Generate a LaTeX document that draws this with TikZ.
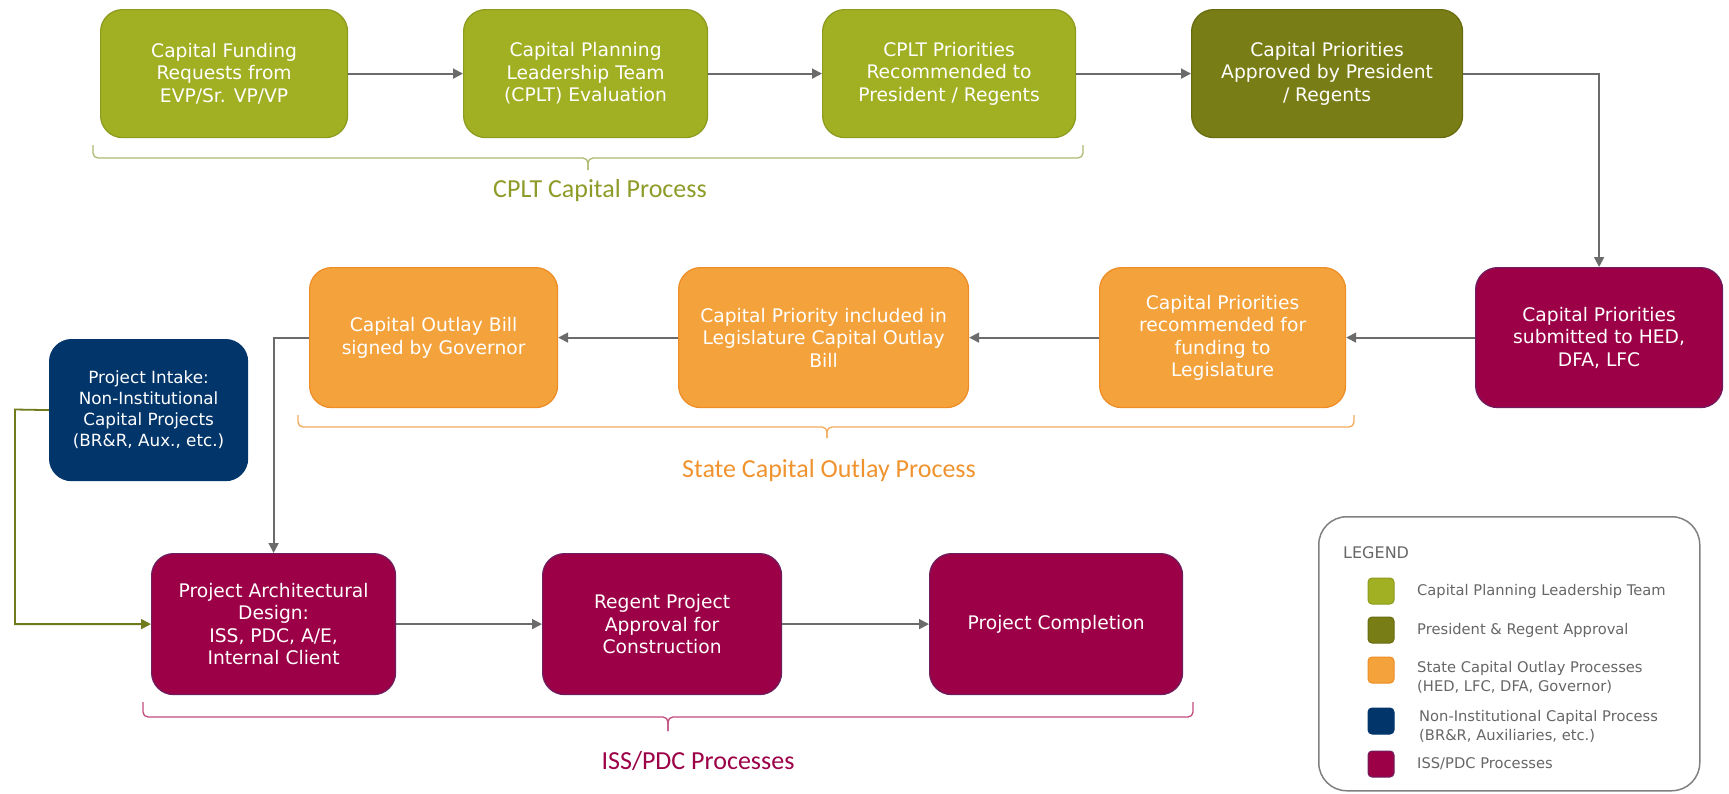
\documentclass[tikz,border=0pt]{standalone}
\usepackage{fontspec}
\setmainfont{DejaVu Sans}
\newfontfamily\labfont{Carlito}
\usetikzlibrary{arrows.meta}
\definecolor{cgreen}{HTML}{A1B023}
\definecolor{cgreenb}{HTML}{8C9A1E}
\definecolor{colive}{HTML}{787D15}
\definecolor{coliveb}{HTML}{676B10}
\definecolor{corange}{HTML}{F4A23B}
\definecolor{corangeb}{HTML}{EE8C26}
\definecolor{cnavy}{HTML}{02356A}
\definecolor{cmaroon}{HTML}{9C0047}
\definecolor{cmaroonb}{HTML}{6E1E5E}
\definecolor{cgray}{HTML}{6B6B6B}
\definecolor{cgline}{HTML}{6F7B1C}
\definecolor{brgreen}{HTML}{AEB86E}
\definecolor{brorange}{HTML}{F2A95C}
\definecolor{brmaroon}{HTML}{C24C7E}
\definecolor{lbgreen}{HTML}{8E9B28}
\definecolor{lborange}{HTML}{F0932F}
\definecolor{lbmaroon}{HTML}{9C0047}
\definecolor{legtext}{HTML}{666666}
\definecolor{legline}{HTML}{808080}
\newcommand\brc[7]{%
  \draw[braceline, draw=#1] (#2,#5) |- (#4,#6) -- (#4,#7);
  \draw[braceline, draw=#1] (#3,#5) |- (#4,#6) -- (#4,#7);}
\begin{document}
\begin{tikzpicture}[x=1pt,y=-1pt,
  box/.style={rounded corners=22pt, line width=1.2pt, align=center, text=white,
    inner sep=0pt, anchor=north west, font=\fontsize{18.7}{22.5}\selectfont},
  conn/.style={draw=cgray, line width=1.8pt, -{Triangle[length=10pt,width=10pt]}},
  gconn/.style={draw=cgline, line width=1.8pt, -{Triangle[length=10pt,width=10pt]}},
  braceline/.style={line width=1.3pt, rounded corners=5pt},
  seclabel/.style={font=\labfont\fontsize{26}{30}\selectfont},
  swatch/.style={rounded corners=4pt, line width=1pt, minimum width=26pt, minimum height=26pt, inner sep=0pt},
  legtxt/.style={anchor=west, align=left, text=legtext, inner sep=0pt, font=\fontsize{14.7}{19}\selectfont},
]
\useasboundingbox (0,0) rectangle (1729,793);

% top row
\node[box, fill=cgreen, draw=cgreenb, minimum width=247pt, minimum height=128pt] (b1) at (100,9) {Capital Funding\\Requests from\\EVP/Sr. VP/VP};
\node[box, fill=cgreen, draw=cgreenb, minimum width=244pt, minimum height=128pt] (b2) at (463,9) {Capital Planning\\Leadership Team\\(CPLT) Evaluation};
\node[box, fill=cgreen, draw=cgreenb, minimum width=253pt, minimum height=128pt] (b3) at (822,9) {CPLT Priorities\\Recommended to\\President / Regents};
\node[box, fill=colive, draw=coliveb, minimum width=271pt, minimum height=128pt] (b4) at (1191,9) {Capital Priorities\\Approved by President\\/ Regents};

% middle row
\node[box, fill=cmaroon, draw=cmaroonb, minimum width=247pt, minimum height=140pt] (b5) at (1475,267) {Capital Priorities\\submitted to HED,\\DFA, LFC};
\node[box, fill=corange, draw=corangeb, minimum width=246pt, minimum height=140pt] (b6) at (1099,267) {Capital Priorities\\recommended for\\funding to\\Legislature};
\node[box, fill=corange, draw=corangeb, minimum width=290pt, minimum height=140pt] (b7) at (678,267) {Capital Priority included in\\Legislature Capital Outlay\\Bill};
\node[box, fill=corange, draw=corangeb, minimum width=248pt, minimum height=140pt] (b8) at (309,267) {Capital Outlay Bill\\signed by Governor};

% intake
\node[box, fill=cnavy, draw=cnavy, minimum width=198pt, minimum height=141pt, font=\fontsize{16.8}{21}\selectfont] (b9) at (49,339) {Project Intake:\\Non-Institutional\\Capital Projects\\(BR\&R, Aux., etc.)};

% bottom row
\node[box, fill=cmaroon, draw=cmaroonb, minimum width=244pt, minimum height=141pt] (b10) at (151,553) {Project Architectural\\Design:\\ISS, PDC, A/E,\\Internal Client};
\node[box, fill=cmaroon, draw=cmaroonb, minimum width=239pt, minimum height=141pt] (b11) at (542,553) {Regent Project\\Approval for\\Construction};
\node[box, fill=cmaroon, draw=cmaroonb, minimum width=253pt, minimum height=141pt] (b12) at (929,553) {Project Completion};

% connectors
\draw[conn] (b1.east) -- (b2.west);
\draw[conn] (b2.east) -- (b3.west);
\draw[conn] (b3.east) -- (b4.west);
\draw[conn] (b4.east) -| (b5.north);
\draw[conn] (b5.west) -- (b6.east);
\draw[conn] (b6.west) -- (b7.east);
\draw[conn] (b7.west) -- (b8.east);
\draw[conn] (b8.west) -| (b10.north);
\coordinate (c9) at (15,409.5);
\draw[gconn] (b9.west) -- (c9) |- (b10.west);
\draw[conn] (b10.east) -- (b11.west);
\draw[conn] (b11.east) -- (b12.west);

% braces
\brc{brgreen}{93}{1083}{588}{145}{158}{170}
\brc{brorange}{298}{1354}{827}{415}{427}{438}
\brc{brmaroon}{143}{1193}{668}{702}{717}{731}

% section labels
\node[seclabel, text=lbgreen] (l1) at (600,191) {CPLT Capital Process};
\node[seclabel, text=lborange] (l2) at (829,471) {State Capital Outlay Process};
\node[seclabel, text=lbmaroon] (l3) at (698,761) {ISS/PDC Processes};

% legend
\node[draw=legline, line width=1.5pt, rounded corners=28pt, minimum width=381pt, minimum height=274pt, inner sep=0pt, anchor=north west] (leg) at (1318,516) {};
\node[anchor=west, text=legtext, inner sep=0pt, font=\fontsize{16}{19}\selectfont] (legt) at (1343,553) {LEGEND};
\node[swatch, fill=cgreen, draw=cgreenb] (s1) at (1381,591) {};
\node[swatch, fill=colive, draw=coliveb] (s2) at (1381,630) {};
\node[swatch, fill=corange, draw=corangeb] (s3) at (1381,670) {};
\node[swatch, fill=cnavy, draw=cnavy] (s4) at (1381,721) {};
\node[swatch, fill=cmaroon, draw=cmaroonb] (s5) at (1381,764) {};
\node[legtxt] (t1) at (1417,591) {Capital Planning Leadership Team};
\node[legtxt] (t2) at (1417,630) {President \& Regent Approval};
\node[legtxt, anchor=north west] (t3) at (1417,661) {State Capital Outlay Processes\\(HED, LFC, DFA, Governor)};
\node[legtxt, anchor=north west] (t4) at (1419,710) {Non-Institutional Capital Process\\(BR\&R, Auxiliaries, etc.)};
\node[legtxt] (t5) at (1417,764) {ISS/PDC Processes};
\end{tikzpicture}
\end{document}
